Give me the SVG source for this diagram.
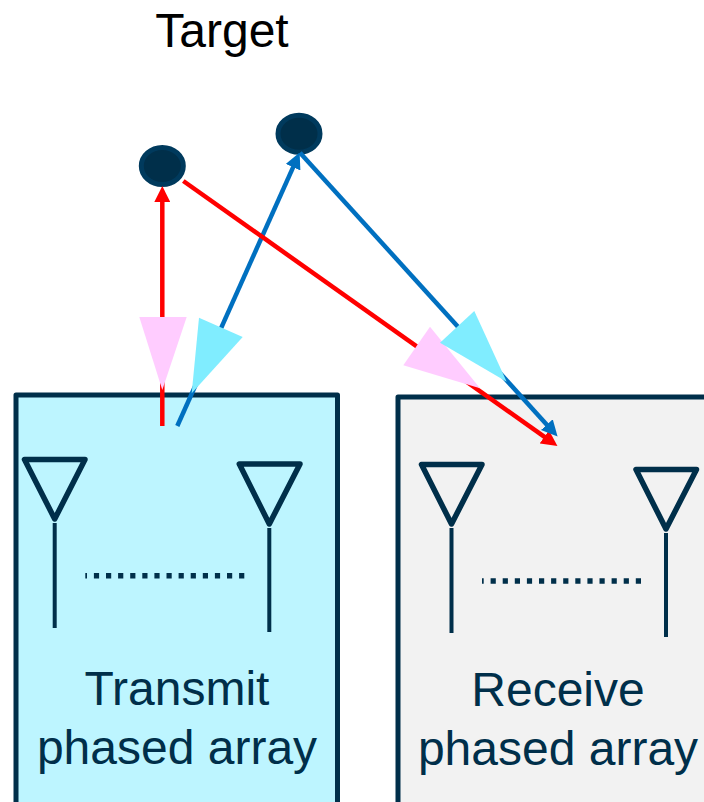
<svg xmlns="http://www.w3.org/2000/svg" width="704" height="802" viewBox="0 0 704 802">
  <style>
    .box { stroke: #002F4A; stroke-width: 5; stroke-linejoin: round; }
    .ant { fill: none; stroke: #002F4A; stroke-width: 5.500; stroke-linejoin: round; }
    .stem { stroke: #002F4A; stroke-width: 4; fill: none; }
    .dots { stroke: #002F4A; stroke-width: 5.500; stroke-dasharray: 5.200 6.900; stroke-dashoffset: 3.500; fill: none; }
    .lbl { font-family: "Liberation Sans", Arial, sans-serif; font-size: 48px; fill: #002F4A; text-anchor: middle; }
    .tgt { fill: #002F4A; stroke: #003A5D; stroke-width: 5; }
    .red { stroke: #FF0000; stroke-width: 4.500; fill: none; }
    .blue { stroke: #0070C0; stroke-width: 4.500; fill: none; }
    .pink { fill: #FFCCFF; }
    .cyan { fill: #80EDFF; }
  </style>
  <defs>
    <marker id="hr" viewBox="0 -8 16 16" markerWidth="16" markerHeight="16" refX="1" refY="0" orient="auto" markerUnits="userSpaceOnUse"><path d="M0,-8L16,0L0,8Z" fill="#FF0000"/></marker>
    <marker id="hb" viewBox="0 -8 16 16" markerWidth="16" markerHeight="16" refX="1" refY="0" orient="auto" markerUnits="userSpaceOnUse"><path d="M0,-8L16,0L0,8Z" fill="#0070C0"/></marker>
  </defs>
  <text x="222" y="47" font-family="'Liberation Sans', Arial, sans-serif" font-size="48" text-anchor="middle" fill="#000000">Target</text>
  <g id="transmit-array">
    <rect class="box" x="16" y="395" width="321.500" height="430" fill="#BDF5FF"/>
    <path class="ant" d="M24.500,459.500H85L54.700,519Z"/>
    <line class="stem" x1="54.700" y1="523" x2="54.700" y2="628"/>
    <path class="ant" d="M239.300,464H300L269.300,524Z"/>
    <line class="stem" x1="269.300" y1="528" x2="269.300" y2="632"/>
    <line class="dots" x1="85.300" y1="575.700" x2="245" y2="575.700"/>
    <text class="lbl" x="177" y="705">Transmit</text>
    <text class="lbl" x="177" y="764">phased array</text>
  </g>
  <g id="receive-array">
    <rect class="box" x="398" y="397" width="340" height="430" fill="#F2F2F2"/>
    <path class="ant" d="M421.500,464.500H482L451.500,524Z"/>
    <line class="stem" x1="451.500" y1="528" x2="451.500" y2="633"/>
    <path class="ant" d="M636,469.500H696.500L666,529Z"/>
    <line class="stem" x1="666" y1="533" x2="666" y2="637"/>
    <line class="dots" x1="482" y1="581" x2="642" y2="581"/>
    <text class="lbl" x="558" y="706">Receive</text>
    <text class="lbl" x="558" y="765">phased array</text>
  </g>
  <g id="target-1"><ellipse class="tgt" cx="162.300" cy="166" rx="21" ry="18.500"/></g>
  <g id="target-2"><ellipse class="tgt" cx="299" cy="133.700" rx="21" ry="18.500"/></g>
  <g id="connectors">
    <line class="red" x1="162.300" y1="426" x2="162.300" y2="201" marker-end="url(#hr)"/>
    <line class="blue" x1="177.300" y1="426" x2="293.500" y2="166.300" marker-end="url(#hb)"/>
    <line class="red" x1="183.300" y1="181" x2="545.200" y2="437.400" marker-end="url(#hr)"/>
    <line class="blue" x1="300" y1="152.700" x2="547.500" y2="425.400" marker-end="url(#hb)"/>
  </g>
  <g id="beams">
    <polygon class="pink" points="139.300,317 186.700,317 162.300,390"/>
    <polygon class="cyan" points="199,317.700 242.700,337 191.700,393.300"/>
    <polygon class="pink" points="430,326.700 403.300,365.300 480,388.300"/>
    <polygon class="cyan" points="474.300,311 440,342.700 506.700,381.700"/>
  </g>
</svg>
